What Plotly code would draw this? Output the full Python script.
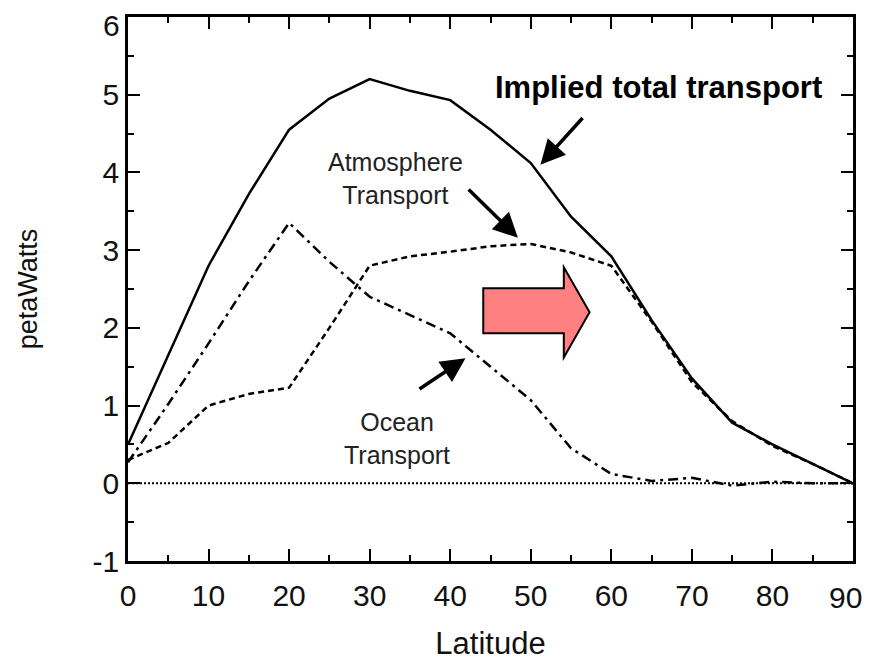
import plotly.graph_objects as go

latitude = [0, 5, 10, 15, 20, 25, 30, 35, 40, 45, 50, 55, 60, 65, 70, 75, 80, 85, 90]
total_transport = [0.5, 1.65, 2.8, 3.72, 4.55, 4.95, 5.2, 5.05, 4.93, 4.55, 4.12, 3.43, 2.92, 2.1, 1.35, 0.78, 0.5, 0.25, 0.0]
atmosphere_transport = [0.3, 0.52, 1.0, 1.15, 1.23, 2.0, 2.8, 2.92, 2.98, 3.05, 3.08, 2.97, 2.8, 2.08, 1.3, 0.8, 0.48, 0.25, 0.0]
ocean_transport = [0.27, 1.02, 1.8, 2.6, 3.35, 2.85, 2.4, 2.17, 1.93, 1.5, 1.07, 0.45, 0.12, 0.03, 0.07, -0.03, 0.02, 0.0, 0.0]
zero_line = [0.0] * len(latitude)

x_ticks = [0, 10, 20, 30, 40, 50, 60, 70, 80, 90]
y_ticks = [-1, 0, 1, 2, 3, 4, 5, 6]
# the end labels "90" and "6" are drawn as annotations nudged inward so they are not clipped
x_ticktext = [str(v) if v != 90 else "" for v in x_ticks]
y_ticktext = [str(v) if v != 6 else "" for v in y_ticks]

FONT = "Liberation Sans, Arial"

fig = go.Figure()
fig.add_trace(go.Scatter(x=latitude, y=zero_line, mode="lines",
                         line=dict(color="black", width=2, dash="2px,2px"), showlegend=False))
fig.add_trace(go.Scatter(x=latitude, y=ocean_transport, mode="lines",
                         line=dict(color="black", width=2.5, dash="10px,5px,3px,5px"), showlegend=False))
fig.add_trace(go.Scatter(x=latitude, y=atmosphere_transport, mode="lines",
                         line=dict(color="black", width=2.5, dash="6px,4px"), showlegend=False))
fig.add_trace(go.Scatter(x=latitude, y=total_transport, mode="lines",
                         line=dict(color="black", width=2.5), showlegend=False))

axis_common = dict(
    showline=True, linecolor="black", linewidth=2.5, mirror="ticks",
    ticks="inside", ticklen=12, tickwidth=2, tickcolor="black",
    showgrid=False, zeroline=False, automargin=False, ticklabeloverflow="allow",
    tickfont=dict(family=FONT, size=30, color="#111"),
)

fig.update_xaxes(range=[0, 90], tickvals=x_ticks, ticktext=x_ticktext,
                 ticklabelstandoff=6,
                 minor=dict(ticks="inside", ticklen=6, tickwidth=2, tickcolor="black", dtick=5, showgrid=False),
                 title=dict(text="Latitude", font=dict(family=FONT, size=31, color="#111"), standoff=22),
                 **axis_common)
fig.update_yaxes(range=[-1, 6], tickvals=y_ticks, ticktext=y_ticktext,
                 minor=dict(ticks="inside", ticklen=6, tickwidth=2, tickcolor="black", dtick=0.5, showgrid=False),
                 title=dict(text="petaWatts", font=dict(family=FONT, size=27, color="#111"), standoff=48),
                 **axis_common)

fig.add_annotation(x=0, y=6, xref="paper", yref="y", text="6", showarrow=False,
                   xanchor="right", yanchor="middle", xshift=-6, yshift=-8,
                   font=dict(family=FONT, size=30, color="#111"))
fig.add_annotation(x=90, y=0, xref="x", yref="paper", text="90", showarrow=False,
                   xanchor="center", yanchor="top", xshift=-8, yshift=-18,
                   font=dict(family=FONT, size=30, color="#111"))

# Pink block arrow
fig.add_shape(type="path",
              path="M 44.1 2.51 L 54.1 2.51 L 54.1 2.78 L 57.3 2.2 L 54.1 1.62 L 54.1 1.93 L 44.1 1.93 Z",
              xref="x", yref="y", fillcolor="#FF8080", line=dict(color="black", width=2))

fig.add_annotation(x=65.8, y=5.09, text="<b>Implied total transport</b>", showarrow=False,
                   font=dict(family=FONT, size=31, color="black"))
fig.add_annotation(x=33.2, y=3.92, text="Atmosphere<br>Transport", showarrow=False,
                   font=dict(family=FONT, size=25, color="#222"))
fig.add_annotation(x=33.4, y=0.57, text="Ocean<br>Transport", showarrow=False,
                   font=dict(family=FONT, size=25, color="#222"))

arrow_style = dict(showarrow=True, arrowhead=2, arrowsize=1.4, arrowwidth=3.5, arrowcolor="black",
                   xref="x", yref="y", axref="x", ayref="y", text="")
fig.add_annotation(x=51.2, y=4.1, ax=56.6, ay=4.72, **arrow_style)
fig.add_annotation(x=48.4, y=3.16, ax=42.1, ay=3.8, **arrow_style)
fig.add_annotation(x=41.9, y=1.61, ax=36.0, ay=1.2, **arrow_style)

# page body adds an 8px offset; margins place the plot area at 128..853 x 17..561 in the window
fig.update_layout(width=871, height=662, plot_bgcolor="white", paper_bgcolor="white",
                  margin=dict(l=120, r=26, t=9, b=109), showlegend=False)

fig.write_html("out.html")
